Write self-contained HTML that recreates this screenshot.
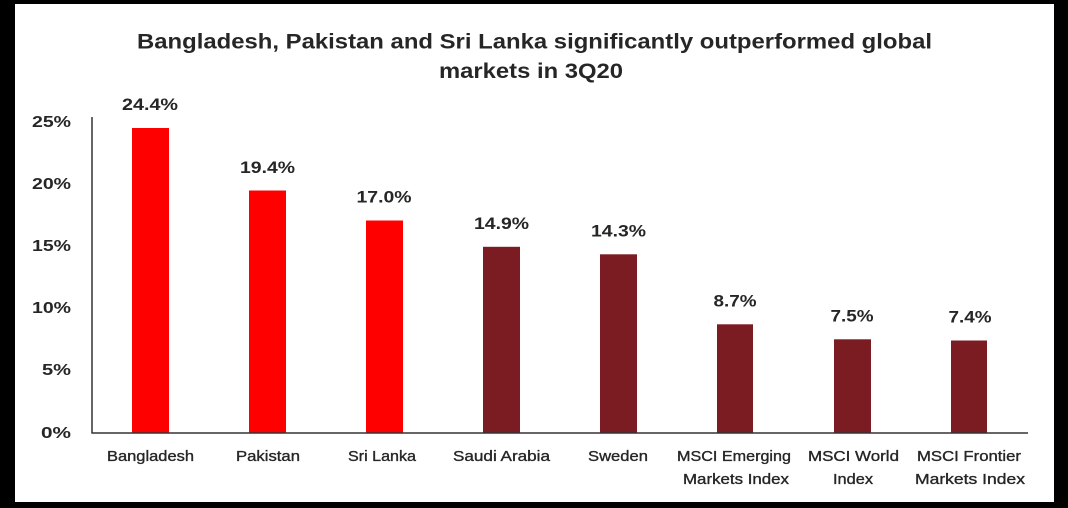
<!DOCTYPE html>
<html>
<head>
<meta charset="utf-8">
<style>
html,body{margin:0;padding:0;background:#000;}
svg{display:block;}
text{font-family:"Liberation Sans",Arial,sans-serif;fill:#262626;}
.b{font-weight:bold;}
</style>
</head>
<body>
<svg width="1068" height="508" viewBox="0 0 1068 508" xmlns="http://www.w3.org/2000/svg">
<rect x="0" y="0" width="1068" height="508" fill="#000"/>
<rect x="15" y="4" width="1039" height="498" fill="#fff"/>

<!-- title -->
<text class="b" x="137" y="48.5" font-size="21" textLength="795" lengthAdjust="spacingAndGlyphs">Bangladesh, Pakistan and Sri Lanka significantly outperformed global</text>
<text class="b" x="439" y="78" font-size="21" textLength="184" lengthAdjust="spacingAndGlyphs">markets in 3Q20</text>

<!-- y tick labels -->
<g class="b" font-size="16" text-anchor="end">
<text x="71" y="127" textLength="39" lengthAdjust="spacingAndGlyphs">25%</text>
<text x="71" y="189" textLength="39" lengthAdjust="spacingAndGlyphs">20%</text>
<text x="71" y="251" textLength="39" lengthAdjust="spacingAndGlyphs">15%</text>
<text x="71" y="313" textLength="39" lengthAdjust="spacingAndGlyphs">10%</text>
<text x="71" y="375" textLength="29" lengthAdjust="spacingAndGlyphs">5%</text>
<text x="71" y="438" textLength="30" lengthAdjust="spacingAndGlyphs">0%</text>
</g>

<!-- bars -->
<g>
<rect x="132" y="128" width="37" height="305" fill="#fe0000"/>
<rect x="249" y="190.5" width="37" height="242.5" fill="#fe0000"/>
<rect x="366" y="220.5" width="37" height="212.5" fill="#fe0000"/>
<rect x="483" y="246.8" width="37" height="186.2" fill="#7a1c22"/>
<rect x="600" y="254.3" width="37" height="178.7" fill="#7a1c22"/>
<rect x="717" y="324.3" width="36" height="108.7" fill="#7a1c22"/>
<rect x="834" y="339.3" width="37" height="93.7" fill="#7a1c22"/>
<rect x="951" y="340.5" width="36" height="92.5" fill="#7a1c22"/>
</g>

<!-- axes -->
<line x1="92" y1="117" x2="92" y2="433.5" stroke="#333" stroke-width="1.5"/>
<line x1="91.5" y1="433" x2="1028" y2="433" stroke="#333" stroke-width="1.5"/>

<!-- data labels -->
<g class="b" font-size="16.5" text-anchor="middle">
<text x="150" y="110" textLength="56" lengthAdjust="spacingAndGlyphs">24.4%</text>
<text x="267.5" y="173" textLength="55" lengthAdjust="spacingAndGlyphs">19.4%</text>
<text x="384" y="202.5" textLength="55" lengthAdjust="spacingAndGlyphs">17.0%</text>
<text x="501.5" y="229" textLength="55" lengthAdjust="spacingAndGlyphs">14.9%</text>
<text x="618.5" y="236.5" textLength="55" lengthAdjust="spacingAndGlyphs">14.3%</text>
<text x="735" y="306.5" textLength="43" lengthAdjust="spacingAndGlyphs">8.7%</text>
<text x="852" y="321.5" textLength="43" lengthAdjust="spacingAndGlyphs">7.5%</text>
<text x="970" y="322.5" textLength="43" lengthAdjust="spacingAndGlyphs">7.4%</text>
</g>

<!-- category labels -->
<g font-size="15" text-anchor="middle" stroke="#262626" stroke-width="0.35">
<text x="150.5" y="461" textLength="87" lengthAdjust="spacingAndGlyphs">Bangladesh</text>
<text x="268" y="461" textLength="64" lengthAdjust="spacingAndGlyphs">Pakistan</text>
<text x="382" y="461" textLength="68" lengthAdjust="spacingAndGlyphs">Sri Lanka</text>
<text x="501.5" y="461" textLength="97" lengthAdjust="spacingAndGlyphs">Saudi Arabia</text>
<text x="618" y="461" textLength="60" lengthAdjust="spacingAndGlyphs">Sweden</text>
<text x="734" y="461" textLength="114" lengthAdjust="spacingAndGlyphs">MSCI Emerging</text>
<text x="736" y="484" textLength="106" lengthAdjust="spacingAndGlyphs">Markets Index</text>
<text x="853.5" y="461" textLength="91" lengthAdjust="spacingAndGlyphs">MSCI World</text>
<text x="853" y="484" textLength="40" lengthAdjust="spacingAndGlyphs">Index</text>
<text x="969" y="461" textLength="104" lengthAdjust="spacingAndGlyphs">MSCI Frontier</text>
<text x="970" y="484" textLength="110" lengthAdjust="spacingAndGlyphs">Markets Index</text>
</g>
</svg>
</body>
</html>
